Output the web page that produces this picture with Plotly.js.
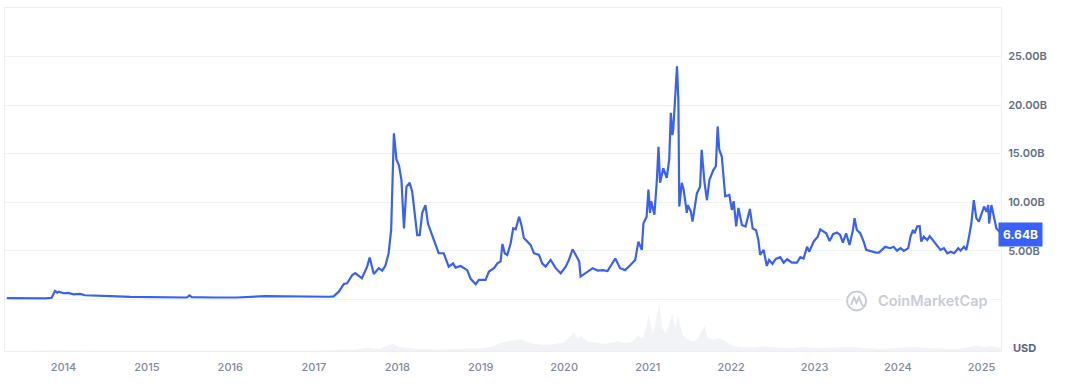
<!DOCTYPE html>
<html>
<head>
<meta charset="utf-8">
<script src="https://cdn.plot.ly/plotly-3.0.1.min.js"></script>
<style>
  html, body { margin: 0; padding: 0; background: #ffffff; }
  #chart { width: 1071px; height: 384px; }
</style>
</head>
<body>
<div id="chart"></div>
<script>
// Market cap (billions USD)
const capDates = [
  "2013-04-28","2013-07-01","2013-10-15","2013-11-10","2013-11-25","2013-12-05","2013-12-12",
  "2014-01-01","2014-01-22","2014-02-14","2014-03-15","2014-04-05","2014-05-27","2014-07-25","2014-10-20",
  "2015-03-15","2015-06-25","2015-07-06","2015-07-17","2015-10-20",
  "2016-01-30","2016-06-03","2016-10-20",
  "2017-03-10","2017-03-28","2017-04-20","2017-05-12","2017-05-26","2017-06-18","2017-07-01","2017-07-30",
  "2017-08-22","2017-09-02","2017-09-20","2017-10-12","2017-10-27","2017-11-10","2017-11-24","2017-12-05",
  "2017-12-10","2017-12-17","2017-12-28",
  "2018-01-08","2018-01-19","2018-01-30","2018-02-10","2018-02-24","2018-03-07","2018-03-18","2018-03-29",
  "2018-04-09","2018-04-20","2018-05-04","2018-05-15","2018-05-30","2018-06-18","2018-07-01","2018-07-23",
  "2018-08-14","2018-09-02","2018-09-13","2018-10-05","2018-11-03","2018-11-18","2018-12-10","2018-12-24",
  "2019-01-22","2019-02-06","2019-02-28","2019-03-15","2019-03-29","2019-04-06","2019-04-16","2019-04-27",
  "2019-05-12","2019-05-23","2019-06-03","2019-06-18","2019-06-28","2019-07-09","2019-07-23","2019-08-07",
  "2019-08-22","2019-09-13","2019-09-27","2019-10-12","2019-11-03","2019-11-25","2019-12-17",
  "2020-01-08","2020-01-22","2020-02-07","2020-02-21","2020-03-07","2020-03-13","2020-03-28","2020-04-12",
  "2020-05-05","2020-05-27","2020-06-18","2020-07-09","2020-07-31","2020-08-12","2020-09-02","2020-09-24",
  "2020-10-16","2020-11-07","2020-11-21","2020-12-06","2020-12-13","2020-12-27",
  "2021-01-04","2021-01-11","2021-01-16","2021-01-30","2021-02-10","2021-02-17","2021-02-24","2021-03-10",
  "2021-03-25","2021-04-05","2021-04-12","2021-04-19","2021-04-23","2021-05-01","2021-05-09","2021-05-15",
  "2021-05-19","2021-05-30","2021-06-07","2021-06-21","2021-06-25","2021-07-09","2021-07-16","2021-08-04",
  "2021-08-18","2021-08-25","2021-09-06","2021-09-17","2021-09-28","2021-10-15","2021-10-26","2021-11-03",
  "2021-11-10","2021-11-21","2021-12-06","2021-12-24",
  "2022-01-04","2022-01-12","2022-01-23","2022-02-02","2022-02-17","2022-03-05","2022-03-24","2022-04-05",
  "2022-04-20","2022-04-30","2022-05-08","2022-05-23","2022-06-06","2022-06-16","2022-07-01","2022-07-15",
  "2022-08-04","2022-08-19","2022-09-03","2022-09-24","2022-10-16","2022-10-31","2022-11-14","2022-11-29",
  "2022-12-09","2022-12-28",
  "2023-01-15","2023-01-26","2023-02-10","2023-02-21","2023-03-08","2023-03-23","2023-04-09","2023-04-23",
  "2023-05-05","2023-05-19","2023-06-03","2023-06-18","2023-06-25","2023-07-05","2023-07-20","2023-08-04",
  "2023-08-15","2023-09-06","2023-09-27","2023-10-10","2023-11-06","2023-11-28","2023-12-13","2023-12-28",
  "2024-01-12","2024-01-27","2024-02-15","2024-02-25","2024-03-07","2024-03-14","2024-03-25","2024-04-05",
  "2024-04-12","2024-04-23","2024-05-08","2024-05-19","2024-06-06","2024-06-20","2024-07-05","2024-07-20",
  "2024-08-04","2024-08-19","2024-09-03","2024-09-21","2024-10-01","2024-10-16","2024-10-26","2024-11-06",
  "2024-11-17","2024-11-28","2024-12-09","2024-12-20","2024-12-28",
  "2025-01-12","2025-01-23","2025-01-30","2025-02-03","2025-02-13","2025-02-24","2025-03-07","2025-03-20","2025-03-26"
];
const capValues = [
  0.12,0.1,0.1,0.15,0.86,0.68,0.78,
  0.62,0.65,0.5,0.55,0.41,0.4,0.33,0.24,
  0.16,0.18,0.4,0.22,0.18,
  0.18,0.33,0.26,
  0.26,0.3,0.78,1.58,1.65,2.5,2.7,2.16,
  3.36,4.3,2.6,3.2,2.95,3.47,4.74,7.14,
  11.6,17.1,14.4,
  13.8,12.3,7.3,11.6,12.0,11.1,8.7,6.6,
  6.6,8.9,9.7,7.8,6.8,5.6,4.74,4.74,
  3.36,3.7,3.26,3.43,3.0,2.1,1.55,2.0,
  2.0,2.85,3.2,3.7,3.9,5.7,4.74,4.56,
  5.77,7.3,7.2,8.5,7.66,6.3,5.94,5.6,
  4.74,4.56,3.7,3.36,4.05,3.2,2.68,
  3.36,4.05,5.15,4.56,3.9,2.33,2.6,2.85,
  3.2,2.95,3.0,2.9,3.7,4.2,3.2,3.0,
  3.5,4.05,5.94,5.08,7.8,8.5,
  11.3,8.9,10.1,8.7,12.3,15.7,12.0,13.5,
  12.5,14.4,19.2,16.9,17.6,20.9,24.0,20.5,
  9.55,12.0,11.3,8.9,9.7,9.0,8.0,10.9,
  11.6,15.4,12.1,10.2,12.3,13.3,13.7,17.8,
  15.4,14.7,10.6,10.75,
  9.2,10.1,7.5,9.4,7.66,7.5,9.3,7.3,
  7.1,6.1,4.56,5.08,3.43,4.05,3.64,4.15,
  4.33,3.77,4.12,3.77,3.77,4.33,4.2,5.4,
  4.9,5.94,
  6.45,7.2,6.97,6.8,6.0,6.7,6.87,6.63,
  5.83,6.8,5.6,7.14,8.35,7.14,6.8,5.94,
  5.08,4.9,4.8,4.8,5.4,5.26,5.4,5.0,
  5.26,4.98,5.26,6.45,7.14,6.8,7.5,7.55,
  5.94,6.45,6.1,6.5,5.94,5.6,5.08,5.26,
  4.74,4.9,4.74,5.26,5.0,5.4,5.08,6.3,
  7.8,10.2,8.35,8.0,8.5,
  9.55,9.0,9.7,7.8,9.7,8.5,7.3,6.97,6.64
];

// Trading volume (billions USD)
const volDates = [
  "2013-04-28","2013-11-25","2014-06-01","2015-07-06","2016-06-01","2017-01-15","2017-05-15","2017-06-20",
  "2017-08-30","2017-10-15","2017-12-12","2017-12-20","2018-01-10","2018-02-05","2018-03-15","2018-05-15",
  "2018-07-15","2018-09-15","2018-11-15","2019-01-15","2019-02-20","2019-04-01","2019-05-15","2019-06-20",
  "2019-07-10","2019-08-15","2019-10-01","2019-11-15","2020-01-05","2020-01-25","2020-02-12","2020-03-01",
  "2020-03-13","2020-04-10","2020-05-15","2020-06-20","2020-07-25","2020-08-20","2020-09-25","2020-10-25",
  "2020-11-20","2020-12-10","2020-12-25","2021-01-05","2021-01-12","2021-01-25","2021-02-08","2021-02-20",
  "2021-03-05","2021-03-20","2021-04-05","2021-04-18","2021-05-01","2021-05-12","2021-05-20","2021-06-05",
  "2021-06-25","2021-07-20","2021-08-10","2021-09-07","2021-09-20","2021-10-15","2021-11-10","2021-12-05",
  "2022-01-10","2022-02-15","2022-04-01","2022-05-10","2022-06-15","2022-09-15","2022-11-10","2023-01-15",
  "2023-03-15","2023-06-25","2023-08-15","2023-10-15","2023-12-15","2024-03-15","2024-06-15","2024-09-15",
  "2024-11-20","2024-12-05","2025-01-20","2025-02-05","2025-03-26"
];
const volValues = [
  0.02,0.2,0.05,0.1,0.05,0.05,0.6,0.5,
  1.2,0.8,2.8,2.4,1.6,1.4,0.9,0.8,
  0.6,0.8,1.0,1.2,1.8,3.2,4.0,4.6,
  4.0,2.8,2.4,2.6,3.4,5.6,7.4,5.0,
  6.0,3.8,3.4,2.8,3.2,3.8,3.0,3.6,
  6.0,5.0,9.0,14.0,11.0,7.0,13.0,18.8,
  9.0,7.0,10.0,15.0,9.0,14.0,11.0,6.0,
  4.5,3.5,5.0,10.0,5.0,4.5,5.0,4.0,
  2.0,1.6,1.4,1.8,1.6,1.2,1.6,1.2,
  1.4,1.6,1.2,0.8,1.2,1.6,1.0,0.8,
  1.8,2.2,1.6,2.0,1.2
];

const yTickVals = [0, 5, 10, 15, 20, 25];
const yTickText = ["", "5.00B", "10.00B", "15.00B", "20.00B", "25.00B"];
const lastLabel = "6.64B";
const lastValue = 6.64;
const watermark = "CoinMarketCap";

const traces = [
  {
    x: volDates, y: volValues, type: "scatter", mode: "lines",
    line: { width: 0, color: "#f1f2f5" }, fill: "tozeroy", fillcolor: "#f2f3f6",
    xaxis: "x", yaxis: "y2", hoverinfo: "skip"
  },
  {
    x: capDates, y: capValues, type: "scatter", mode: "lines",
    line: { color: "#3861fb", width: 2.2 },
    xaxis: "x", yaxis: "y", hoverinfo: "skip"
  }
];

const logoColor = "#c8ccd5";
const layout = {
  width: 1071, height: 384,
  margin: { l: 5, r: 70, t: 8, b: 33 },
  paper_bgcolor: "#ffffff", plot_bgcolor: "#ffffff",
  showlegend: false,
  font: { family: "Inter, 'Noto Sans', sans-serif" },
  xaxis: {
    type: "date",
    range: ["2013-04-20", "2025-03-27"],
    dtick: "M12", tick0: "2014-01-01", tickformat: "%Y",
    showgrid: false, zeroline: false,
    showline: true, mirror: true, linecolor: "#eceef2", linewidth: 1,
    ticks: "outside", ticklen: 6, tickcolor: "rgba(0,0,0,0)",
    tickfont: { size: 11, color: "#808a9d", weight: 500 }
  },
  yaxis: {
    range: [-5.33, 30.0],
    side: "right",
    tickvals: yTickVals, ticktext: yTickText,
    showgrid: true, gridcolor: "#eff2f5", gridwidth: 1,
    zeroline: false,
    showline: true, mirror: true, linecolor: "#eceef2", linewidth: 1,
    ticks: "outside", ticklen: 4, tickcolor: "rgba(0,0,0,0)",
    tickfont: { size: 11, color: "#616e85", weight: 600 }
  },
  yaxis2: {
    domain: [0, 0.149], range: [0, 20], anchor: "x",
    showgrid: false, zeroline: false, showticklabels: false, showline: false
  },
  shapes: [
    { type: "rect", xref: "paper", yref: "paper", xsizemode: "pixel", ysizemode: "pixel",
      xanchor: 0.855, yanchor: 0.146, x0: -14, x1: 133, y0: -11, y1: 11,
      fillcolor: "#ffffff", line: { width: 0 }, layer: "above" },
    { type: "circle", xref: "paper", yref: "paper", xsizemode: "pixel", ysizemode: "pixel",
      xanchor: 0.855, yanchor: 0.146, x0: -9.5, x1: 9.5, y0: -9.5, y1: 9.5,
      fillcolor: "rgba(0,0,0,0)", line: { color: logoColor, width: 2 }, layer: "above" },
    { type: "path", xref: "paper", yref: "paper", xsizemode: "pixel", ysizemode: "pixel",
      xanchor: 0.855, yanchor: 0.146,
      path: "M -5.5,-4 L -2.5,3.5 L 0,-2 L 2.5,3.5 L 5,-3 Q 6.5,-6 9,-5",
      line: { color: logoColor, width: 2 }, layer: "above" }
  ],
  annotations: [
    {
      xref: "paper", yref: "paper", x: 0.8745, y: 0.146, xanchor: "left", yanchor: "middle",
      text: watermark, showarrow: false,
      font: { size: 14.5, color: logoColor, weight: 600 }
    },
    {
      xref: "paper", yref: "y", x: 1.0, y: lastValue, xanchor: "left", yanchor: "middle",
      xshift: -3,
      text: lastLabel, showarrow: false, bgcolor: "#3861fb", borderpad: 4,
      font: { size: 12, color: "#ffffff", weight: 700 }
    },
    {
      xref: "paper", yref: "paper", x: 1.024, y: 0.01, xanchor: "center", yanchor: "middle",
      text: "USD", showarrow: false,
      font: { size: 11, color: "#58667e", weight: 700 }
    }
  ]
};

Plotly.newPlot("chart", traces, layout, { staticPlot: true, displayModeBar: false });
</script>
</body>
</html>
